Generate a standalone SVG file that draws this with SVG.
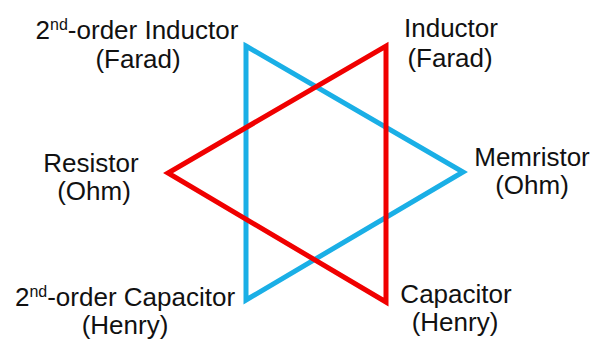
<svg xmlns="http://www.w3.org/2000/svg" width="593" height="341" viewBox="0 0 593 341">
<style>
text{font-family:"Liberation Sans",Arial,sans-serif;font-size:26px;fill:#111;text-anchor:middle}
.tri{fill:none;stroke-width:5;stroke-linejoin:miter}
.blue{stroke:#1AAFE6}
.red{stroke:#F00000}
.sup{font-size:16px}
</style>
<rect width="593" height="341" fill="#fff"/>
<g id="connectors">
<polygon class="tri blue" points="246,46 463,172 246,300"/>
<polygon class="tri red" points="386,46 386,302 168,173"/>
</g>
<g id="n-2nd-inductor"><text x="137" y="39">2<tspan class="sup" dy="-9">nd</tspan><tspan dy="9">-order Inductor</tspan></text><text x="138" y="68">(Farad)</text></g>
<g id="n-inductor"><text x="451" y="37">Inductor</text><text x="450" y="67">(Farad)</text></g>
<g id="n-resistor"><text x="91" y="172">Resistor</text><text x="94" y="200">(Ohm)</text></g>
<g id="n-memristor"><text x="532" y="166">Memristor</text><text x="532" y="194">(Ohm)</text></g>
<g id="n-2nd-capacitor"><text x="125" y="306">2<tspan class="sup" dy="-9">nd</tspan><tspan dy="9">-order Capacitor</tspan></text><text x="125" y="334">(Henry)</text></g>
<g id="n-capacitor"><text x="456" y="303">Capacitor</text><text x="455" y="331">(Henry)</text></g>
</svg>
